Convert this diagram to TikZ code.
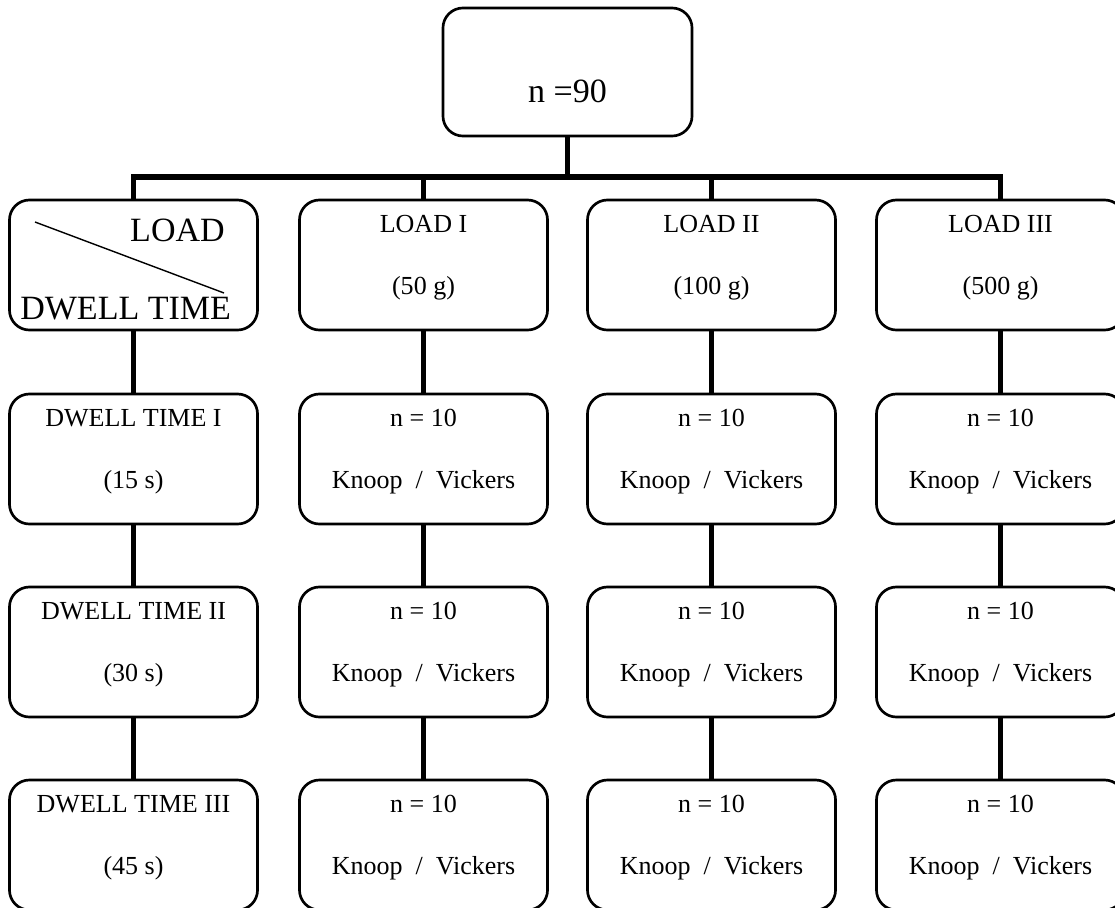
\documentclass[tikz,border=0pt]{standalone}
\usepackage{fontspec}
\setmainfont{Liberation Serif}

\begin{document}
\begin{tikzpicture}[x=0.025cm,y=-0.025cm]
\tikzstyle{box}=[draw,line width=1.9pt,rounded corners=0.5cm,minimum width=6.2cm,minimum height=3.25cm,inner sep=0pt]
\tikzstyle{txt}=[inner sep=0pt,anchor=base,font=\fontsize{18.5}{22}\selectfont]
\tikzstyle{big}=[inner sep=0pt,font=\fontsize{24.2}{28}\selectfont]
\tikzstyle{link}=[line width=3.6pt]
\useasboundingbox (0,0) rectangle (1115,907);
\clip (0,0) rectangle (1115,907);
% total sample
\node[box,minimum width=6.225cm,minimum height=3.2cm] (total) at (567.5,72) {};
\node[big,anchor=base] (totaltxt) at (567.5,102) {n =90};
% header box
\node[box] (a0) at (133.5,265) {};
\draw[line width=1pt] (35,222) -- (224,293);
\node[big,anchor=base east] (a0load) at (225,241) {LOAD};
\node[big,anchor=base west] (a0dwell) at (20,319) {DWELL TIME};
% loads
\foreach \n/\x/\up/\down in {b/423.5/LOAD I/(50 g),c/711.5/LOAD II/(100 g),d/1000.5/LOAD III/(500 g)}{
  \node[box] (\n0) at (\x,265) {};
  \node[txt] (\n0up) at ([yshift=0.81cm]\n0.center) {\up};
  \node[txt] (\n0dn) at ([yshift=-0.725cm]\n0.center) {\down};
}
% dwell times
\foreach \r/\y/\up/\down in {1/459/DWELL TIME I/(15 s),2/652/DWELL TIME II/(30 s),3/845/DWELL TIME III/(45 s)}{
  \node[box] (a\r) at (133.5,\y) {};
  \node[txt] (a\r up) at ([yshift=0.81cm]a\r.center) {\up};
  \node[txt] (a\r dn) at ([yshift=-0.725cm]a\r.center) {\down};
}
% groups
\foreach \n/\x in {b/423.5,c/711.5,d/1000.5}
  \foreach \r/\y in {1/459,2/652,3/845}{
    \node[box] (\n\r) at (\x,\y) {};
    \node[txt] (\n\r up) at ([yshift=0.81cm]\n\r.center) {n = 10};
    \node[txt] (\n\r dn) at ([yshift=-0.725cm]\n\r.center) {Knoop~~/~~Vickers};
  }
% connectors
\coordinate (split) at (567.5,177);
\draw[link] (total) -- (split);
\draw[link] (a0) |- (split) -| (d0);
\draw[link] (b0) -- (b0 |- split);
\draw[link] (c0) -- (c0 |- split);
\foreach \n in {a,b,c,d}
  \draw[link] (\n0) -- (\n1) (\n1) -- (\n2) (\n2) -- (\n3);
\end{tikzpicture}
\end{document}
